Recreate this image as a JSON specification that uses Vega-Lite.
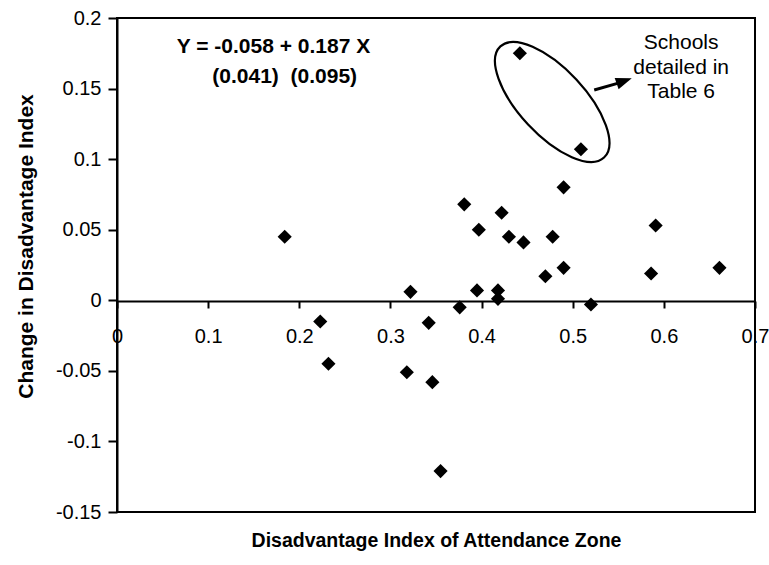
{
  "$schema": "https://vega.github.io/schema/vega-lite/v6.json",
  "width": 638,
  "height": 494,
  "autosize": {"type": "none"},
  "padding": {"left": 117, "top": 18, "right": 14, "bottom": 53},
  "background": "white",
  "config": {
    "view": {"stroke": "black", "strokeWidth": 2},
    "font": "Liberation Sans",
    "axis": {
      "grid": false,
      "domainColor": "black",
      "domainWidth": 2,
      "tickColor": "black",
      "tickWidth": 2,
      "labelColor": "black",
      "labelFont": "Liberation Sans",
      "labelFontSize": 20,
      "titleFont": "Liberation Sans",
      "titleFontWeight": "bold",
      "titleColor": "black"
    }
  },
  "layer": [
    {
      "data": {
        "values": [
          {"zone": 0.184, "change": 0.045},
          {"zone": 0.223, "change": -0.015},
          {"zone": 0.232, "change": -0.045},
          {"zone": 0.318, "change": -0.051},
          {"zone": 0.322, "change": 0.006},
          {"zone": 0.342, "change": -0.016},
          {"zone": 0.346, "change": -0.058},
          {"zone": 0.355, "change": -0.121},
          {"zone": 0.376, "change": -0.005},
          {"zone": 0.381, "change": 0.068},
          {"zone": 0.395, "change": 0.007},
          {"zone": 0.397, "change": 0.050},
          {"zone": 0.418, "change": 0.007},
          {"zone": 0.418, "change": 0.001},
          {"zone": 0.422, "change": 0.062},
          {"zone": 0.430, "change": 0.045},
          {"zone": 0.442, "change": 0.175},
          {"zone": 0.446, "change": 0.041},
          {"zone": 0.470, "change": 0.017},
          {"zone": 0.478, "change": 0.045},
          {"zone": 0.490, "change": 0.080},
          {"zone": 0.490, "change": 0.023},
          {"zone": 0.509, "change": 0.107},
          {"zone": 0.520, "change": -0.003},
          {"zone": 0.586, "change": 0.019},
          {"zone": 0.591, "change": 0.053},
          {"zone": 0.661, "change": 0.023}
        ]
      },
      "mark": {"type": "point", "shape": "diamond", "filled": true, "color": "black", "opacity": 1, "size": 200},
      "encoding": {
        "x": {
          "field": "zone", "type": "quantitative",
          "scale": {"domain": [0, 0.7], "nice": false, "zero": false},
          "axis": {
            "title": "Disadvantage Index of Attendance Zone",
            "titleFontSize": 19.5,
            "titleY": 239,
            "titleBaseline": "middle",
            "offset": -211,
            "values": [0, 0.1, 0.2, 0.3, 0.4, 0.5, 0.6, 0.7],
            "labelExpr": "'' + datum.value",
            "tickSize": 7,
            "labelPadding": 18,
            "labelFlush": false,
            "labelOverlap": false
          }
        },
        "y": {
          "field": "change", "type": "quantitative",
          "scale": {"domain": [-0.15, 0.2], "nice": false, "zero": false},
          "axis": {
            "title": "Change in Disadvantage Index",
            "titleFontSize": 21,
            "titleX": -91,
            "titleY": 228,
            "titleBaseline": "middle",
            "values": [-0.15, -0.1, -0.05, 0, 0.05, 0.1, 0.15, 0.2],
            "labelExpr": "'' + datum.value",
            "tickSize": 9,
            "labelPadding": 7,
            "labelFlush": false,
            "labelOverlap": false
          }
        }
      }
    },
    {
      "data": {"values": [{"cx": 0.4775, "cy": 0.1405}]},
      "mark": {
        "type": "point",
        "shape": "M 1 0 C 1 0.2397 0.5523 0.434 0 0.434 C -0.5523 0.434 -1 0.2397 -1 0 C -1 -0.2397 -0.5523 -0.434 0 -0.434 C 0.5523 -0.434 1 -0.2397 1 0 Z",
        "filled": false,
        "stroke": "black",
        "strokeWidth": 2.2,
        "opacity": 1,
        "size": 23104,
        "angle": 47
      },
      "encoding": {
        "x": {"field": "cx", "type": "quantitative"},
        "y": {"field": "cy", "type": "quantitative"}
      }
    },
    {
      "data": {"values": [{"x1": 0.5236, "y1": 0.149, "x2": 0.551, "y2": 0.154}]},
      "mark": {"type": "rule", "color": "black", "strokeWidth": 3},
      "encoding": {
        "x": {"field": "x1", "type": "quantitative"},
        "y": {"field": "y1", "type": "quantitative"},
        "x2": {"field": "x2"},
        "y2": {"field": "y2"}
      }
    },
    {
      "data": {"values": [{"hx": 0.5565, "hy": 0.1554}]},
      "mark": {
        "type": "point",
        "shape": "M 1 0 L -1 -0.75 L -1 0.75 Z",
        "filled": true,
        "color": "black",
        "opacity": 1,
        "size": 256,
        "angle": -19
      },
      "encoding": {
        "x": {"field": "hx", "type": "quantitative"},
        "y": {"field": "hy", "type": "quantitative"}
      }
    },
    {
      "data": {
        "values": [
          {"tx": 0.1717, "ty": 0.1795, "label": "Y = -0.058 + 0.187 X"},
          {"tx": 0.184, "ty": 0.158, "label": "(0.041)\u00a0\u00a0(0.095)"}
        ]
      },
      "mark": {"type": "text", "font": "Liberation Sans", "fontWeight": "bold", "fontSize": 21, "color": "black", "align": "center", "baseline": "middle"},
      "encoding": {
        "x": {"field": "tx", "type": "quantitative"},
        "y": {"field": "ty", "type": "quantitative"},
        "text": {"field": "label"}
      }
    },
    {
      "data": {
        "values": [
          {"tx": 0.619, "ty": 0.1823, "label": "Schools"},
          {"tx": 0.619, "ty": 0.1646, "label": "detailed in"},
          {"tx": 0.619, "ty": 0.1476, "label": "Table 6"}
        ]
      },
      "mark": {"type": "text", "font": "Liberation Sans", "fontSize": 21, "color": "black", "align": "center", "baseline": "middle"},
      "encoding": {
        "x": {"field": "tx", "type": "quantitative"},
        "y": {"field": "ty", "type": "quantitative"},
        "text": {"field": "label"}
      }
    }
  ]
}
